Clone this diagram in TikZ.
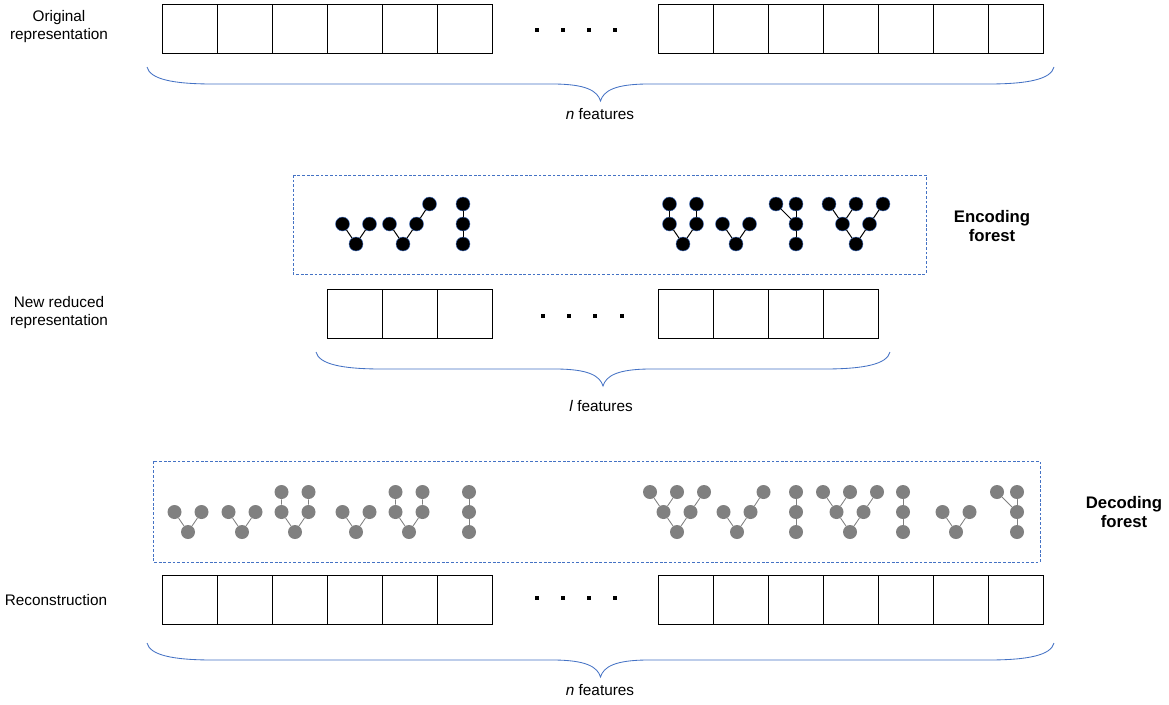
\documentclass[tikz,border=0pt]{standalone}
\usepackage{fontspec}
\setmainfont{Liberation Sans}
\usepackage{tikz}
\usetikzlibrary{positioning}
\definecolor{fblue}{HTML}{4472C4}
\definecolor{fgray}{HTML}{808080}
\tikzset{
  cell/.style={draw, line width=0.7pt, minimum width=13.75mm, minimum height=12.25mm, inner sep=0pt, outer sep=0pt},
  dotsq/.style={fill=black, inner sep=0pt, minimum size=0.8mm},
  brc/.style={fblue, line width=0.6pt},
  forestbox/.style={fblue, line width=0.6pt, dash pattern=on 2pt off 1.3pt},
  encnode/.style={circle, fill=black, draw=fblue, line width=0.3pt, minimum size=3.5mm, inner sep=0pt},
  decnode/.style={circle, fill=fgray, minimum size=3.5mm, inner sep=0pt},
  encedge/.style={line width=0.7pt},
  decedge/.style={fgray, line width=0.6pt},
  tn/.style={encnode}, te/.style={encedge},
  lbl/.style={font=\fontsize{10.9}{12.8}\selectfont, align=center},
  ttl/.style={font=\fontsize{11.9}{13.5}\selectfont\bfseries, align=center},
  % little trees, root at the pic origin
  pics/vee/.style={code={
    \node[tn] (-l) at (-13.5,-20) {};
    \node[tn] (-r) at (13.5,-20) {};
    \node[tn] (-root) at (0,0) {};
    \draw[te] (-l) -- (-root) -- (-r);
  }},
  pics/veeplus/.style={code={
    \node[tn] (-l) at (-13.5,-20) {};
    \node[tn] (-r) at (13.5,-20) {};
    \node[tn] (-t) at (26.5,-40) {};
    \node[tn] (-root) at (0,0) {};
    \draw[te] (-l) -- (-root) -- (-r) -- (-t);
  }},
  pics/chain/.style={code={
    \node[tn] (-a) at (0,-40) {};
    \node[tn] (-b) at (0,-20) {};
    \node[tn] (-c) at (0,0) {};
    \draw[te] (-a) -- (-b) -- (-c);
  }},
  pics/dvee/.style={code={
    \node[tn] (-tl) at (-13.5,-40) {};
    \node[tn] (-tr) at (13.5,-40) {};
    \node[tn] (-ml) at (-13.5,-20) {};
    \node[tn] (-mr) at (13.5,-20) {};
    \node[tn] (-root) at (0,0) {};
    \draw[te] (-tl) -- (-ml) -- (-root) -- (-mr) -- (-tr);
  }},
  pics/fork/.style={code={
    \node[tn] (-tl) at (-20,-40) {};
    \node[tn] (-tr) at (0,-40) {};
    \node[tn] (-m) at (0,-20) {};
    \node[tn] (-b) at (0,0) {};
    \draw[te] (-tl) -- (-m);
    \draw[te] (-tr) -- (-m) -- (-b);
  }},
  pics/big/.style={code={
    \node[tn] (-tl) at (-27,-40) {};
    \node[tn] (-tm) at (0,-40) {};
    \node[tn] (-tr) at (27,-40) {};
    \node[tn] (-ml) at (-13.5,-20) {};
    \node[tn] (-mr) at (13.5,-20) {};
    \node[tn] (-root) at (0,0) {};
    \draw[te] (-tl) -- (-ml) -- (-root) -- (-mr) -- (-tr);
    \draw[te] (-tm) -- (-ml);
  }},
}
\newcommand{\featbrace}[3]{%
  \pgfmathsetmacro{\brmid}{(#1+#2)/2}%
  \draw[brc] (#1,#3) .. controls (#1+3,#3+12) and (#1+25,#3+17) .. (#1+66,#3+17)
    -- (\brmid-48,#3+17) .. controls (\brmid-14,#3+17) and (\brmid-3,#3+24) .. (\brmid,#3+34)
    .. controls (\brmid+3,#3+24) and (\brmid+14,#3+17) .. (\brmid+48,#3+17)
    -- (#2-66,#3+17) .. controls (#2-25,#3+17) and (#2-3,#3+12) .. (#2,#3);
}

\begin{document}
\begin{tikzpicture}[x=0.25mm, y=-0.25mm]
  \useasboundingbox (0,0) rectangle (1169,704);

  % original representation
  \node[lbl] (origtxt) at (59,27) {Original\\representation};
  \foreach \i in {0,...,5} \node[cell] (origL\i) at ({189.5+55*\i},28.5) {};
  \foreach \i in {0,...,6} \node[cell] (origR\i) at ({685.5+55*\i},28.5) {};
  \foreach \x [count=\k] in {537,563,589,615} \node[dotsq] (origdot\k) at (\x,30) {};
  \featbrace{147}{1054}{67}
  \node[lbl] (orign) at (600,114) {\textit{n} features};

  % encoding forest
  \draw[forestbox] (293,175) rectangle (926,274);
  \pic (encA) at (356,244) {vee};
  \pic (encB) at (403,244) {veeplus};
  \pic (encC) at (463,244) {chain};
  \pic (encD) at (683,244) {dvee};
  \pic (encE) at (736,244) {vee};
  \pic (encF) at (796,244) {fork};
  \pic (encG) at (856,244) {big};
  \node[ttl] (enctxt) at (992,226) {Encoding\\forest};

  % new reduced representation
  \node[lbl] (redtxt) at (59,313) {New reduced\\representation};
  \foreach \i in {0,...,2} \node[cell] (redL\i) at ({354.5+55*\i},313.5) {};
  \foreach \i in {0,...,3} \node[cell] (redR\i) at ({685.5+55*\i},313.5) {};
  \foreach \x [count=\k] in {543,569,595,622} \node[dotsq] (reddot\k) at (\x,316) {};
  \featbrace{316}{890}{352}
  \node[lbl] (redl) at (601,406) {\textit{l} features};

  % decoding forest
  \draw[forestbox] (153,461) rectangle (1040,562);
  \begin{scope}[tn/.style={decnode}, te/.style={decedge}]
    \pic (decA) at (188,532) {vee};
    \pic (decB) at (242,532) {vee};
    \pic (decC) at (295,532) {dvee};
    \pic (decD) at (356,532) {vee};
    \pic (decE) at (409,532) {dvee};
    \pic (decF) at (469,532) {chain};
    \pic (decG) at (677,532) {big};
    \pic (decH) at (737,532) {veeplus};
    \pic (decI) at (796,532) {chain};
    \pic (decJ) at (850,532) {big};
    \pic (decK) at (903,532) {chain};
    \pic (decL) at (956,532) {vee};
    \pic (decM) at (1017,532) {fork};
  \end{scope}
  \node[ttl] (dectxt) at (1124,512) {Decoding\\forest};

  % reconstruction
  \node[lbl] (rectxt) at (56,600) {Reconstruction};
  \foreach \i in {0,...,5} \node[cell] (recL\i) at ({189.5+55*\i},599.5) {};
  \foreach \i in {0,...,6} \node[cell] (recR\i) at ({685.5+55*\i},599.5) {};
  \foreach \x [count=\k] in {537,563,589,615} \node[dotsq] (recdot\k) at (\x,598) {};
  \featbrace{147}{1054}{643}
  \node[lbl] (recn) at (600,690) {\textit{n} features};
\end{tikzpicture}
\end{document}
